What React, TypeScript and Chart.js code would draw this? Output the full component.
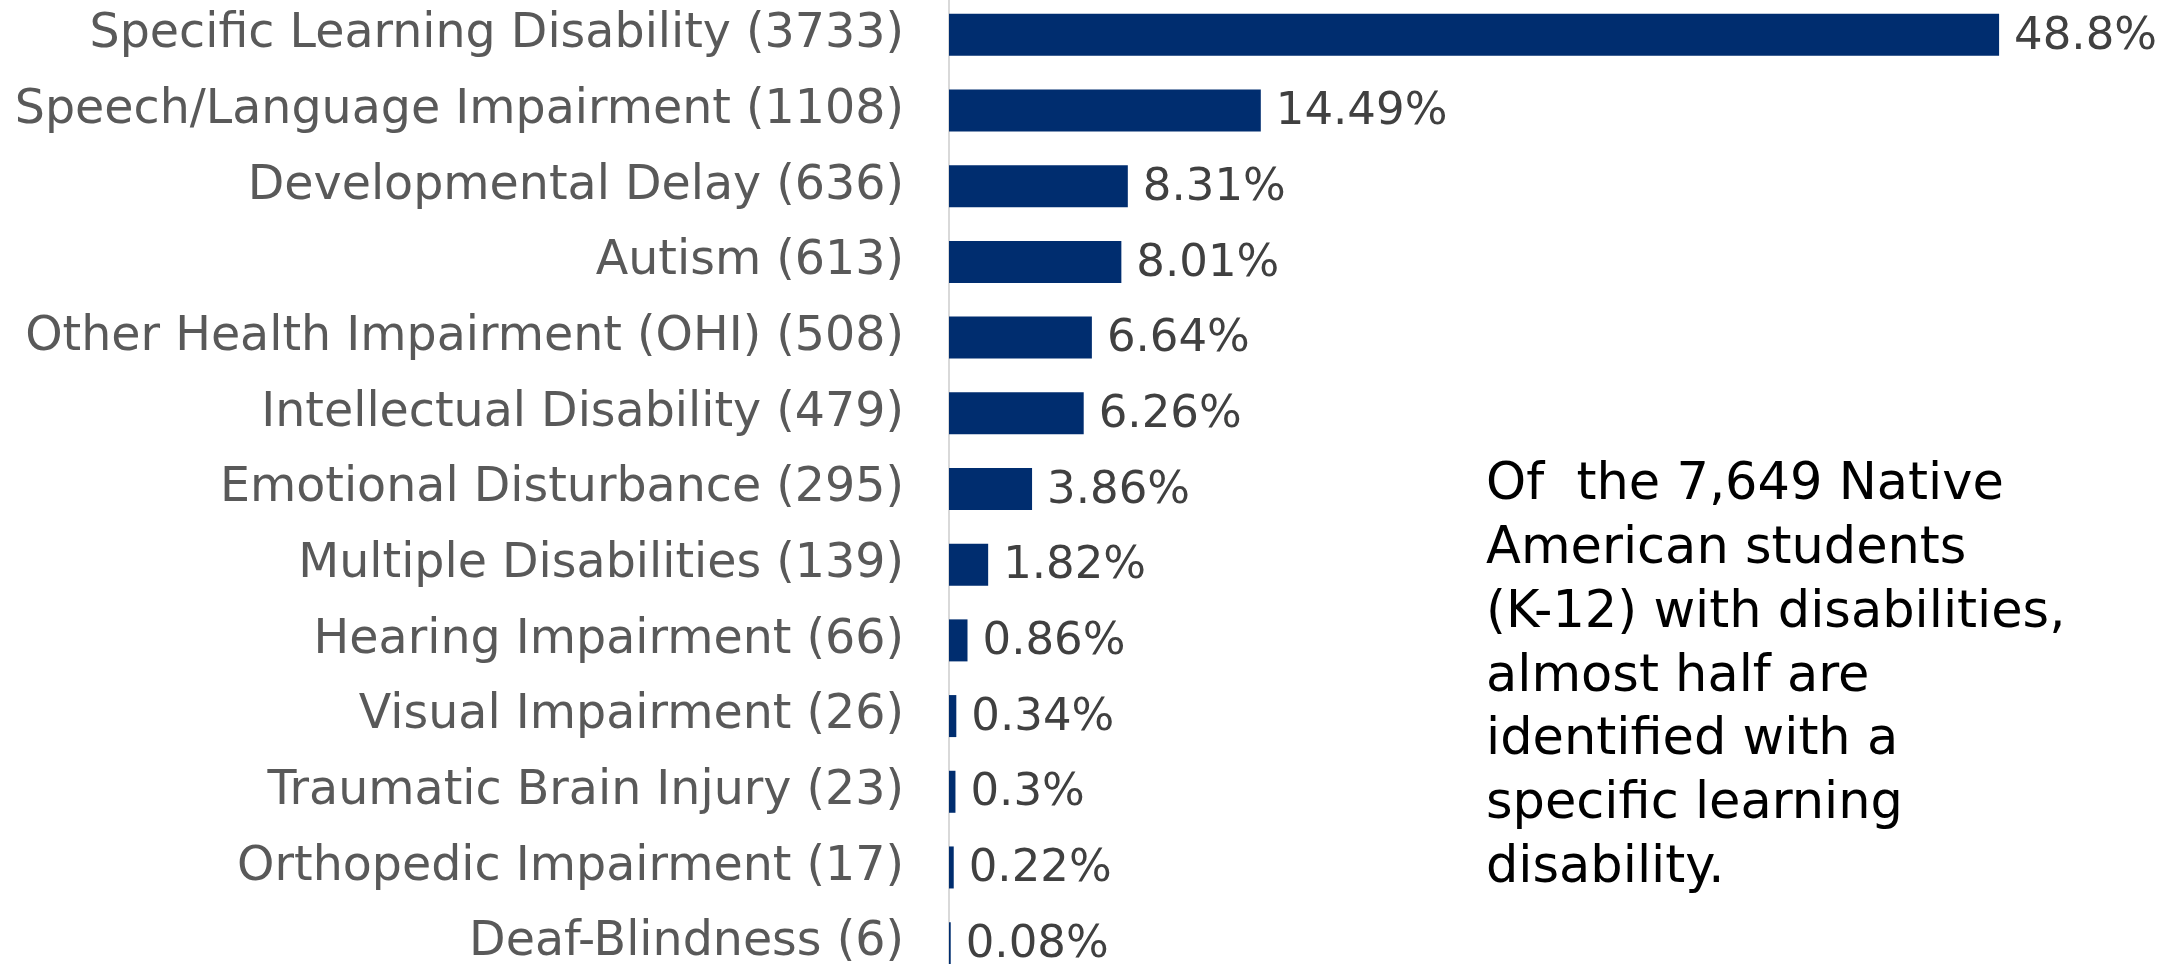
import React, { useEffect, useRef } from "react";
import { Chart, registerables } from "chart.js";
Chart.register(...registerables);

const categories = [
  "Specific Learning Disability",
  "Speech/Language Impairment",
  "Developmental Delay",
  "Autism",
  "Other Health Impairment (OHI)",
  "Intellectual Disability",
  "Emotional Disturbance",
  "Multiple Disabilities",
  "Hearing Impairment",
  "Visual Impairment",
  "Traumatic Brain Injury",
  "Orthopedic Impairment",
  "Deaf-Blindness",
];
const counts = [3733, 1108, 636, 613, 508, 479, 295, 139, 66, 26, 23, 17, 6];
const percents = [48.8, 14.49, 8.31, 8.01, 6.64, 6.26, 3.86, 1.82, 0.86, 0.34, 0.3, 0.22, 0.08];
const noteLines = [
  "Of  the 7,649 Native",
  "American students",
  "(K-12) with disabilities,",
  "almost half are",
  "identified with a",
  "specific learning",
  "disability.",
];

const FONT = "'DejaVu Sans', sans-serif";

export default function App() {
  const ref = useRef<HTMLCanvasElement>(null);
  useEffect(() => {
    document.body.style.margin = "0";
    const labels = categories.map((c, i) => `${c} (${counts[i]})`);
    const valueLabels = {
      id: "valueLabels",
      afterDatasetsDraw(chart: any) {
        const ctx = chart.ctx;
        const meta = chart.getDatasetMeta(0);
        ctx.save();
        ctx.font = `45px ${FONT}`;
        ctx.fillStyle = "#404040";
        ctx.textAlign = "left";
        ctx.textBaseline = "middle";
        meta.data.forEach((bar: any, i: number) => {
          ctx.fillText(`${percents[i]}%`, bar.x + 15, bar.y + 2);
        });
        ctx.restore();
      },
    };
    const note = {
      id: "note",
      afterDraw(chart: any) {
        const ctx = chart.ctx;
        ctx.save();
        ctx.font = `51px ${FONT}`;
        ctx.fillStyle = "#000000";
        ctx.textAlign = "left";
        ctx.textBaseline = "middle";
        noteLines.forEach((l, i) => {
          ctx.fillText(l, 1486, 489 + i * 63.8);
        });
        ctx.restore();
      },
    };
    const chart = new Chart(ref.current!, {
      type: "bar",
      data: {
        labels,
        datasets: [
          {
            data: percents,
            backgroundColor: "#002d6f",
            borderWidth: 0,
            barPercentage: 0.555,
            categoryPercentage: 1,
          },
        ],
      },
      options: {
        indexAxis: "y",
        animation: false,
        responsive: true,
        maintainAspectRatio: false,
        layout: { padding: 0 },
        plugins: { legend: { display: false }, tooltip: { enabled: false } },
        scales: {
          x: { display: false, min: 0, max: 57.3 },
          y: {
            grid: { display: false },
            border: { display: true, color: "#d9d9d9", width: 2 },
            ticks: { color: "#595959", font: { size: 47.5, family: FONT }, padding: 37, autoSkip: false },
            afterFit: (scale: any) => {
              scale.width = 949;
              scale.paddingTop = 0;
              scale.paddingBottom = 0;
            },
          },
        },
      },
      plugins: [valueLabels, note],
    });
    return () => chart.destroy();
  }, []);
  return (
    <div style={{ position: "fixed", left: 0, top: 0, width: 2182, height: 964, overflow: "hidden", background: "#fff" }}>
      <div style={{ position: "absolute", left: 0, top: -3, width: 2182, height: 984 }}>
        <canvas ref={ref} />
      </div>
    </div>
  );
}
